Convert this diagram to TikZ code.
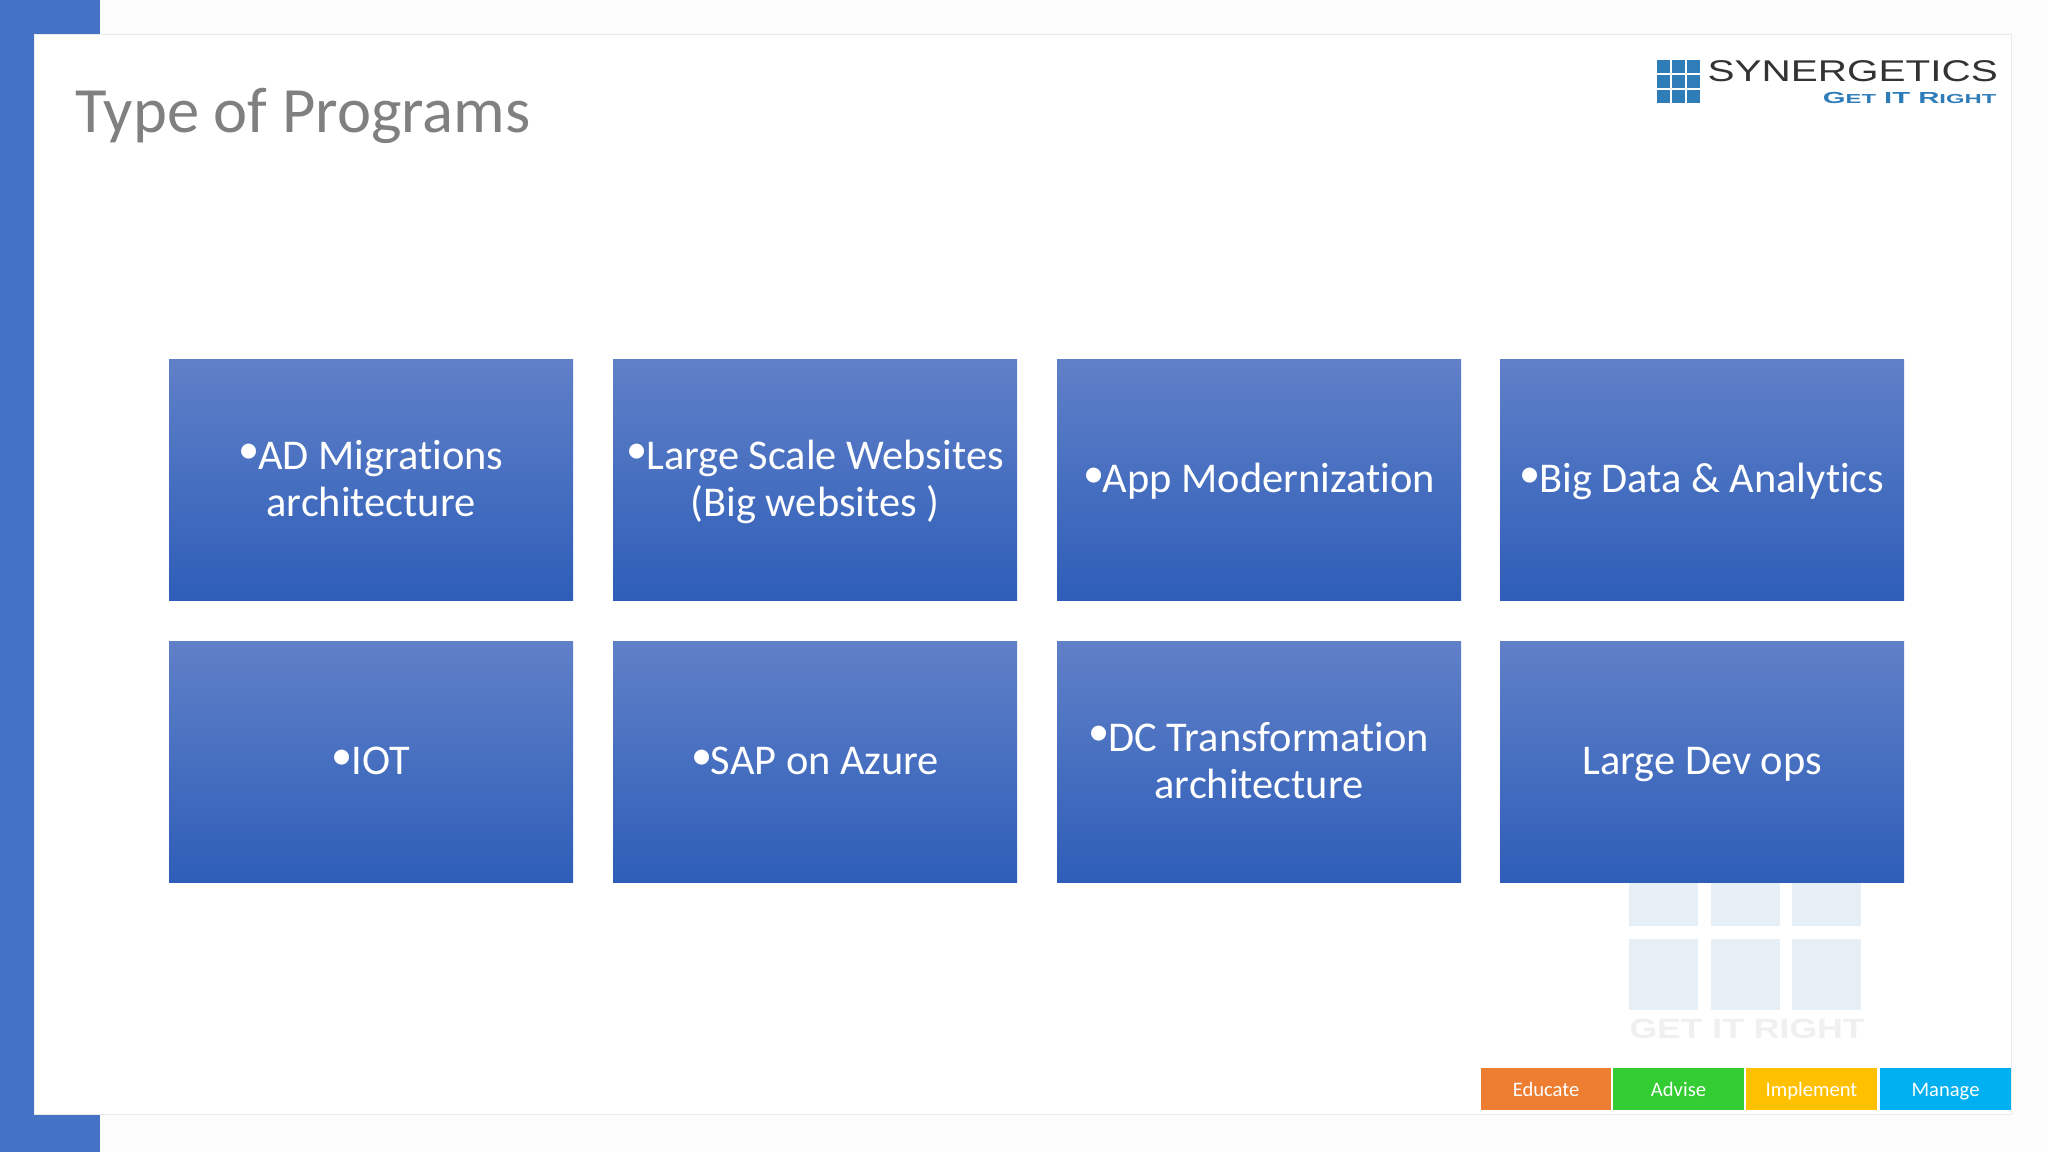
\documentclass[tikz,border=0pt]{standalone}
\usepackage{fontspec}
\setmainfont{Carlito}[Ligatures=NoCommon]
\newfontfamily\logofont{Liberation Sans}
\newcommand{\bul}{\raisebox{0.28ex}{\textbullet}\hspace{-0.03em}}
\definecolor{barblue}{HTML}{4472C4}
\definecolor{logoblue}{HTML}{2F7DB8}
\definecolor{markblue}{HTML}{E6EFF6}
\definecolor{tiletop}{HTML}{6080C8}
\definecolor{tilemid}{HTML}{3F6EC8}
\definecolor{tilebot}{HTML}{2E5EB8}

\begin{document}
\begin{tikzpicture}[x=0.5pt,y=-0.5pt]
    % 设置样式
    \tikzset{
        tile/.style={rectangle, minimum width=202pt, minimum height=120.5pt, inner sep=0pt, align=center,
            top color=tiletop, middle color=tilemid, bottom color=tilebot, text=white,
            font=\fontsize{21.2}{23.5}\selectfont},
        tag/.style={rectangle, minimum width=65.2pt, minimum height=21pt, inner sep=0pt, text=white,
            font=\fontsize{10.3}{12}\selectfont},
        cell/.style={fill=logoblue},
        markcell/.style={fill=markblue},
    }

    % 背景和边框
    \path[use as bounding box, fill=white!99!black] (0,0) rectangle (2048,1152);
    \fill[barblue] (0,0) rectangle (100,1152);
    \draw[fill=white, draw=black!8] (34,34) rectangle (2011,1114);
    \fill[barblue] (0,0) rectangle (34,1152);

    % 标题
    \node[anchor=base west, inner sep=0pt, text=black!50, font=\fontsize{32.3}{36}\selectfont] (title) at (75,132) {Type of Programs};

    % 水印
    \foreach \x in {1629,1711,1792} {
        \fill[markcell] (\x,883) rectangle +(69,43);
        \fill[markcell] (\x,939) rectangle +(69,71);
    }
    \node[anchor=base west, inner sep=0pt, text=black!6, xscale=1.27, transform shape, font=\logofont\bfseries\fontsize{14}{16}\selectfont] (marktext) at (1629,1038) {GET IT RIGHT};

    % 八个方块
    \foreach \name/\x/\y/\txt in {
        ad/371/479.5/{\bul AD Migrations\\architecture},
        web/815/479.5/{\bul Large Scale Websites\\(Big websites )},
        app/1259/479.5/{\bul App Modernization},
        big/1702/479.5/{\bul Big Data \& Analytics},
        iot/371/761.5/{\bul IOT},
        sap/815/761.5/{\bul SAP on Azure},
        dc/1259/761.5/{\bul DC Transformation\\architecture},
        dev/1702/761.5/{Large Dev ops}} {
        \node[tile] (\name) at (\x,\y) {\rule{0pt}{20.5pt}\txt\strut};
    }

    % 标志
    \foreach \x in {1657,1672,1687} {
        \foreach \y in {60,75,90} {
            \fill[cell] (\x,\y) rectangle +(13,13);
        }
    }
    \node[anchor=base west, inner sep=0pt, text=black!80, xscale=1.35, transform shape, font=\logofont\fontsize{15}{17}\selectfont] (logoname) at (1707,81) {SYNERGETICS};
    \node[anchor=base east, inner sep=0pt, text=logoblue, xscale=1.83, transform shape, font=\logofont\bfseries\fontsize{8}{10}\selectfont] (logotag) at (1997,103) {G{\fontsize{6.5}{8}\selectfont ET} IT R{\fontsize{6.5}{8}\selectfont IGHT}};

    % 底部标签
    \foreach \name/\x/\col/\txt in {
        educate/1546/ED7D31/Educate,
        advise/1678.5/33CC33/Advise,
        implement/1811.5/FFC000/Implement,
        manage/1945.5/00B0F0/Manage} {
        \definecolor{tagcolor}{HTML}{\col}
        \node[tag, fill=tagcolor] (\name) at (\x,1089) {\rule[-3.6pt]{0pt}{14.6pt}\txt};
    }
\end{tikzpicture}
\end{document}
